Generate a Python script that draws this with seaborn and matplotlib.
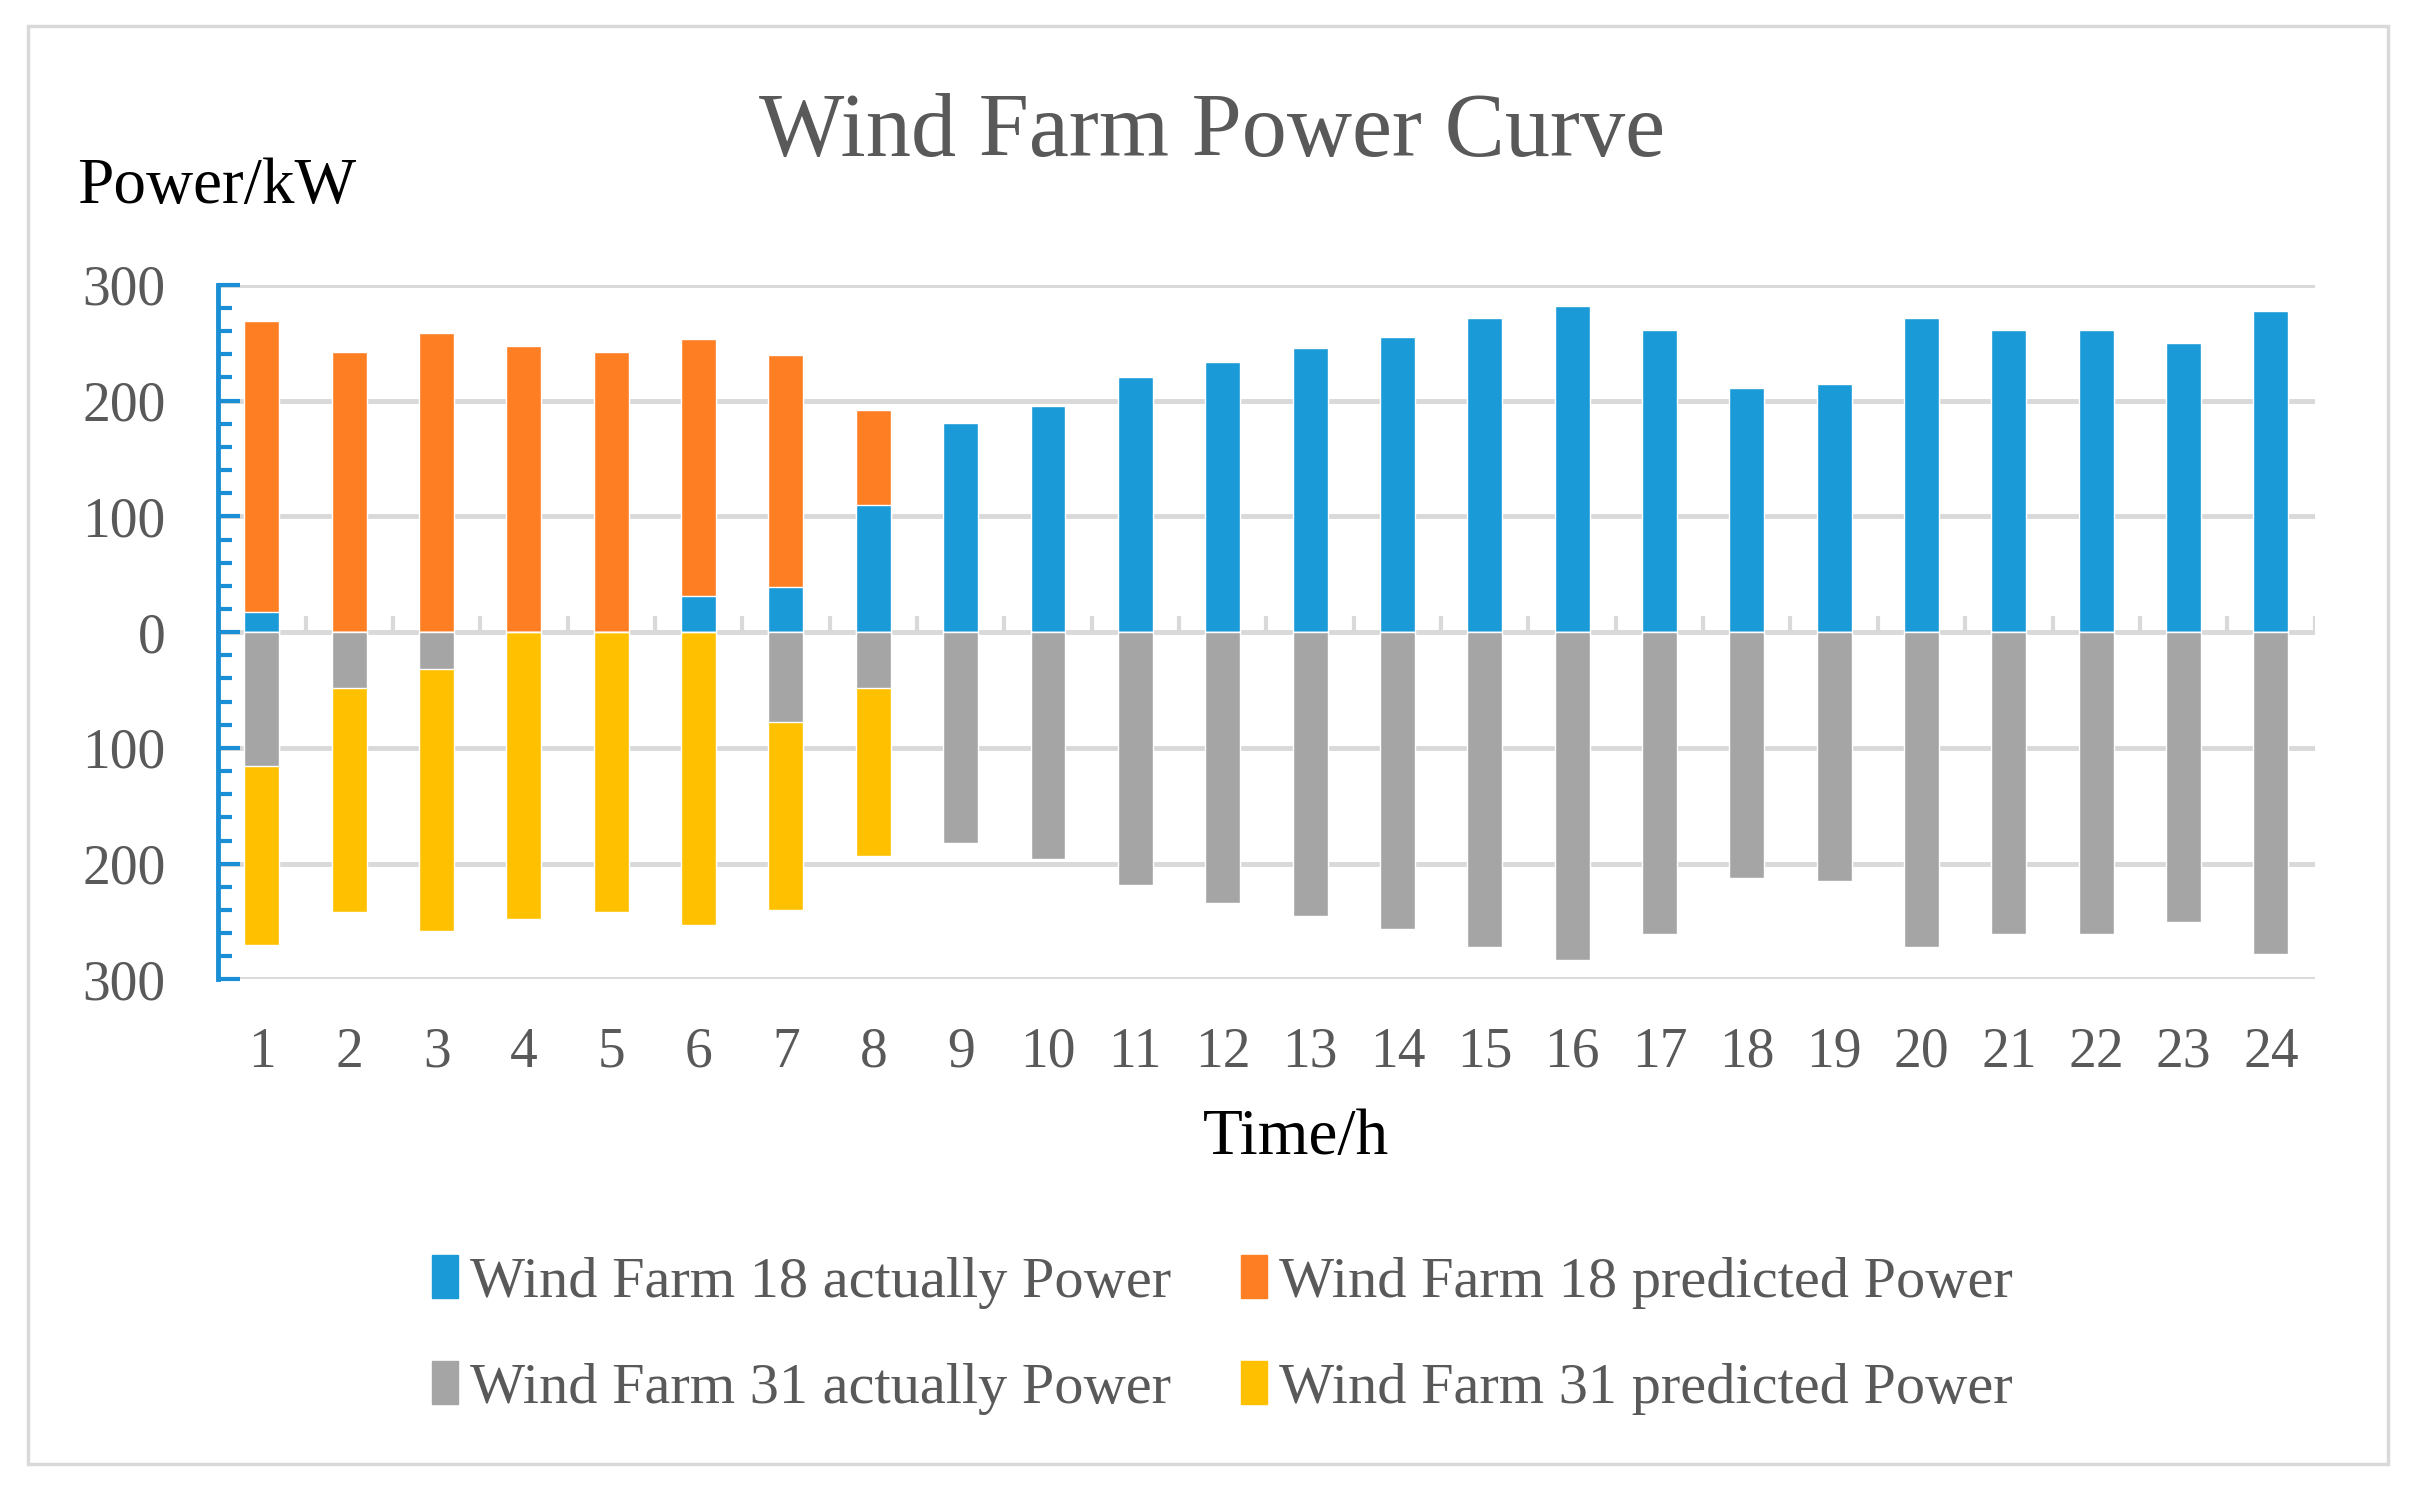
import numpy as np
import pandas as pd
import matplotlib
matplotlib.use("Agg")
import matplotlib.pyplot as plt
from matplotlib.patches import Rectangle, Patch
from matplotlib.ticker import MultipleLocator, FuncFormatter
import seaborn as sns

# data (kW)
hours = list(range(1, 25))
wf18_actual = [17, 0, 0, 0, 0, 31, 39, 110, 181, 195, 220, 233,
               245, 255, 271, 282, 261, 211, 214, 271, 261, 261, 250, 277]
wf18_predicted = [269, 242, 258, 247, 242, 253, 239, 192, 0, 0, 0, 0,
                  0, 0, 0, 0, 0, 0, 0, 0, 0, 0, 0, 0]
wf31_actual = [116, 48, 32, 0, 0, 0, 78, 48, 182, 196, 218, 234,
               245, 256, 272, 283, 261, 212, 215, 272, 261, 261, 250, 278]
wf31_predicted = [270, 242, 258, 248, 242, 253, 240, 193, 0, 0, 0, 0,
                  0, 0, 0, 0, 0, 0, 0, 0, 0, 0, 0, 0]

labels = ["Wind Farm 18 actually Power", "Wind Farm 18 predicted Power",
          "Wind Farm 31 actually Power", "Wind Farm 31 predicted Power"]
colors = ["#1A9AD7", "#FD7E23", "#A5A5A5", "#FFC000"]

df = pd.DataFrame({
    "hour": hours,
    "a18": wf18_actual,
    "p18": wf18_predicted,
    "a31": [-v for v in wf31_actual],
    "p31": [-v for v in wf31_predicted],
})

sns.set_style("white")
plt.rcParams["font.family"] = ["Liberation Serif", "DejaVu Serif"]

fig = plt.figure(figsize=(24.11, 14.99), dpi=100)
ax = fig.add_axes([0.0905, 0.3466, 0.8695, 0.4634])

grey_txt = "#595959"
grid_c = "#D9D9D9"
spine_c = "#1A8FD6"

# predicted drawn first, actual on top
kw = dict(x="hour", data=df, width=0.4, saturation=1, errorbar=None, ax=ax, zorder=3)
sns.barplot(y="p18", color=colors[1], **kw)
sns.barplot(y="a18", color=colors[0], **kw)
sns.barplot(y="p31", color=colors[3], **kw)
sns.barplot(y="a31", color=colors[2], **kw)

ax.set_xlim(-0.5, len(hours) - 0.5)
ax.set_ylim(-300, 300)
ax.yaxis.set_major_locator(MultipleLocator(100))
ax.yaxis.set_minor_locator(MultipleLocator(20))
ax.yaxis.set_major_formatter(FuncFormatter(lambda v, p: f"{abs(int(round(v)))}"))
ax.set_axisbelow(True)
ax.yaxis.grid(True, which="major", color=grid_c, linewidth=3.5)
ax.xaxis.grid(False)

# small category separators on the zero line
ax.vlines(np.arange(len(hours) + 1) - 0.5, 0, 14, color=grid_c, linewidth=3, zorder=2)

for s in ["top", "right", "bottom"]:
    ax.spines[s].set_visible(False)
ax.spines["left"].set_color(spine_c)
ax.spines["left"].set_linewidth(3.5)
ax.tick_params(axis="y", which="major", left=True, direction="in", length=16, width=3,
               color=spine_c, pad=38, labelsize=40, labelcolor=grey_txt)
ax.tick_params(axis="y", which="minor", left=True, direction="in", length=10, width=3,
               color=spine_c)
ax.tick_params(axis="x", length=0, pad=34, labelsize=40, labelcolor=grey_txt)
ax.set_xlabel("")
ax.set_ylabel("")

fig.text(0.5026, 0.9108, "Wind Farm Power Curve", ha="center", va="center",
         fontsize=65, color=grey_txt)
fig.text(0.0319, 0.8748, "Power/kW", ha="left", va="center", fontsize=47, color="black")
fig.text(0.5377, 0.2409, "Time/h", ha="center", va="center", fontsize=47, color="black")

handles = [Patch(color=c) for c in colors]
order = [0, 2, 1, 3]
fig.legend([handles[i] for i in order], [labels[i] for i in order],
           loc="center", bbox_to_anchor=(0.507, 0.1095), ncol=2, frameon=False,
           fontsize=42, labelcolor=grey_txt, handlelength=0.45, handleheight=0.75,
           handletextpad=0.2, columnspacing=1.2, labelspacing=0.9)

fig.patches.append(Rectangle((0.0115, 0.0234), 0.9789, 0.9592, transform=fig.transFigure,
                             fill=False, edgecolor=grid_c, linewidth=2.5))

fig.savefig("out.png", dpi=100)
